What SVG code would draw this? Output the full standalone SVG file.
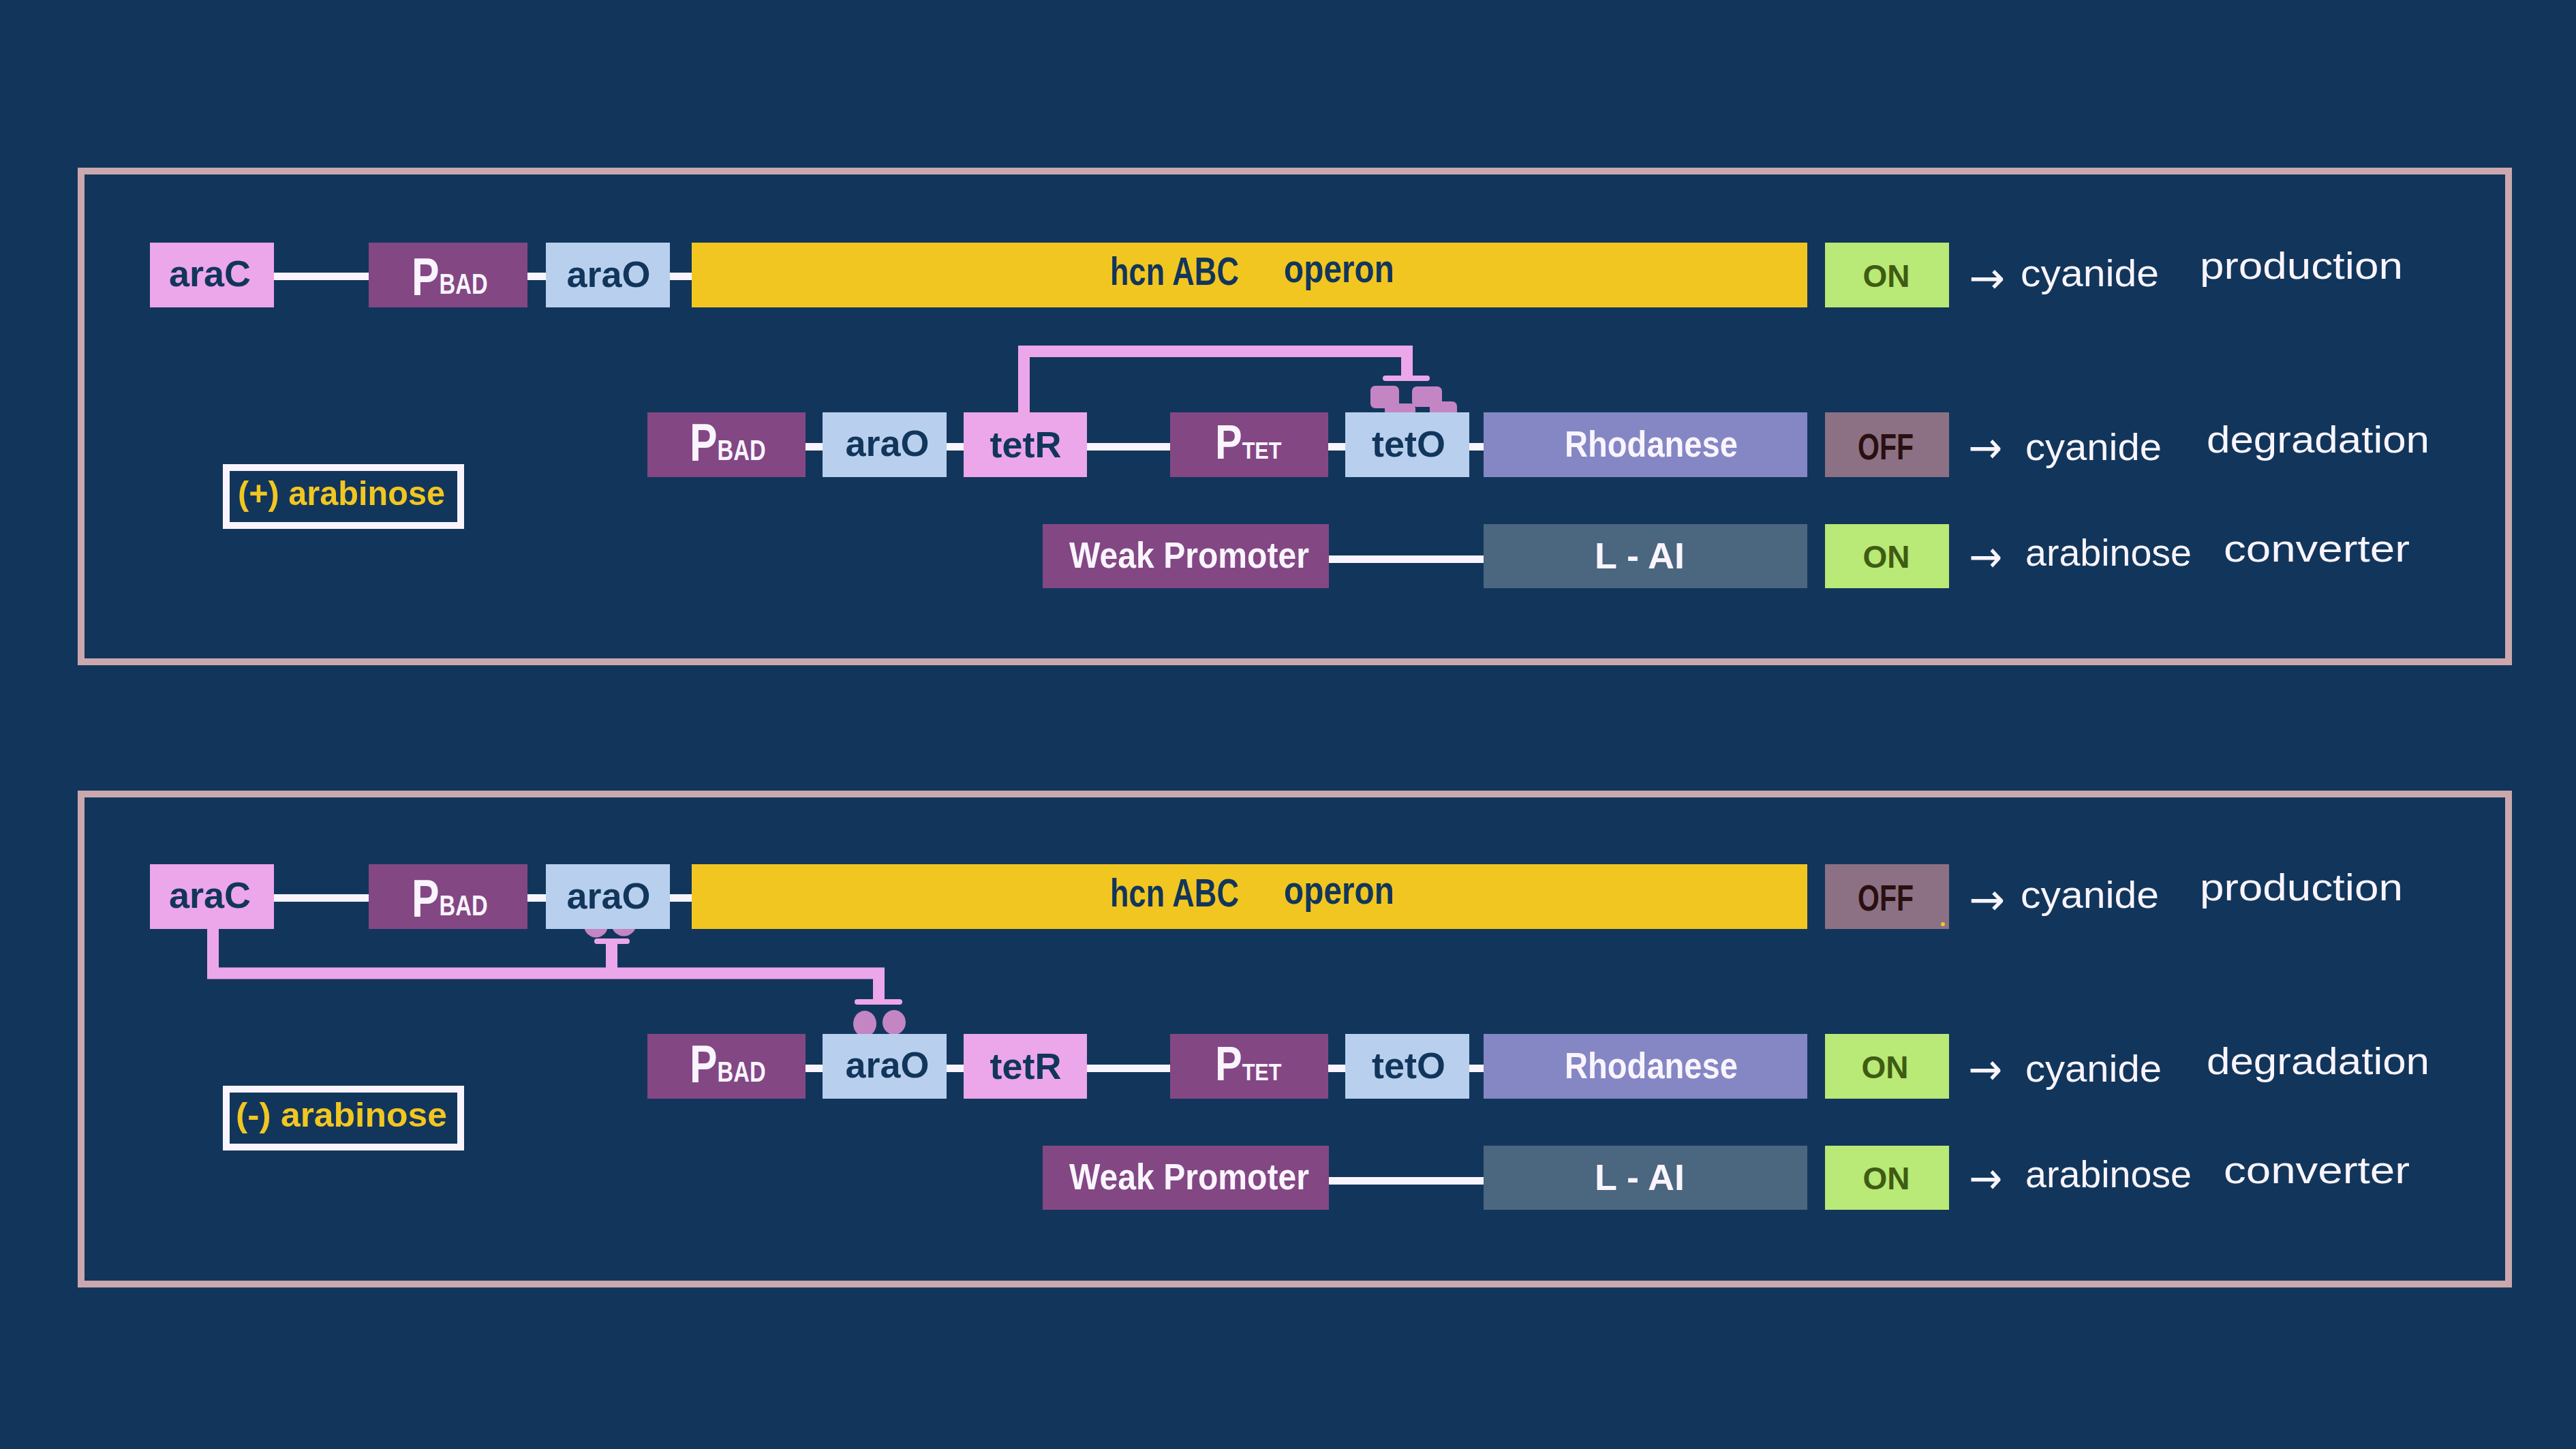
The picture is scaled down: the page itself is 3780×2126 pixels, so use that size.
<svg xmlns="http://www.w3.org/2000/svg" width="3780" height="2126" viewBox="0 0 3780 2126">
<style>
.frame{fill:none;stroke:#cba8ad;stroke-width:10}
.dna{stroke:#f9f4fd;stroke-width:11}
.rep{fill:none;stroke:#eca6ea;stroke-width:17;stroke-linejoin:miter}
.bar{stroke:#eca6ea;stroke-width:8;stroke-linecap:round}
.prot{fill:#c485c4}
.pink{fill:#eca6ea}.prom{fill:#834784}.op{fill:#b8d0ee}.hcn{fill:#f2c621}.rho{fill:#8487c4}.lai{fill:#4b667f}.on{fill:#b9e976}.off{fill:#8c7185}
.cond{fill:none;stroke:#f9f4fd;stroke-width:10}
text{font-family:"Liberation Sans",Arial,sans-serif}
.lbl{font-size:54px;font-weight:bold;fill:#12365b}
.wl{font-weight:bold;fill:#f9f4fd}
.ont{font-size:46px;font-weight:bold;fill:#3f5c12}
.offt{font-size:53px;font-weight:bold;fill:#2a0f10}
.out{font-size:56px;fill:#f9f4fd}
.arr{font-family:"DejaVu Sans",sans-serif;font-size:64px;fill:#f9f4fd}
.arab{font-size:50px;font-weight:bold;fill:#f2c621}
.mid{text-anchor:middle}
</style>
<rect width="3780" height="2126" fill="#12365b"/>

<!-- ================= PANEL 1 ================= -->
<g id="panel1">
<rect id="frame1" class="frame" x="119" y="251" width="3562" height="720"/>
<g id="connectors1">
<line class="dna" x1="402" y1="405.5" x2="1015" y2="405.5"/>
<line class="dna" x1="1182" y1="655.5" x2="2177" y2="655.5"/>
<line class="dna" x1="1950" y1="820.5" x2="2177" y2="820.5"/>
<path class="rep" d="M1502.5,605 V515.5 H2064.5 V553"/>
<line class="bar" x1="2033" y1="555" x2="2094" y2="555"/>
</g>
<g id="tetR-protein1">
<rect class="prot" x="2011" y="566" width="42" height="33" rx="7"/>
<rect class="prot" x="2032" y="592" width="45" height="34" rx="7"/>
<rect class="prot" x="2072" y="567" width="44" height="30" rx="7"/>
<rect class="prot" x="2098" y="589" width="40" height="33" rx="7"/>
</g>
<g id="p1-araC"><rect class="pink" x="220" y="356" width="182" height="95"/><text class="lbl mid" x="308" y="420">araC</text></g>
<g id="p1-pbad1"><rect class="prom" x="541" y="356" width="233" height="95"/><text class="wl" transform="translate(604,433) scale(0.78,1)"><tspan style="font-size:78px">P</tspan><tspan style="font-size:42px" dy="-2">BAD</tspan></text></g>
<g id="p1-araO1"><rect class="op" x="801" y="356" width="182" height="95"/><text class="lbl mid" x="893" y="421">araO</text></g>
<g id="p1-hcn"><rect class="hcn" x="1015" y="356" width="1637" height="95"/><text class="lbl" style="font-size:58px" x="1629" y="418" textLength="189" lengthAdjust="spacingAndGlyphs">hcn ABC</text><text class="lbl" style="font-size:58px" x="1884" y="414" textLength="162" lengthAdjust="spacingAndGlyphs">operon</text></g>
<g id="p1-on1"><rect class="on" x="2678" y="356" width="182" height="95"/><text class="ont mid" x="2768" y="421">ON</text></g>
<g id="p1-out1"><text class="arr" x="2889" y="430" textLength="53" lengthAdjust="spacingAndGlyphs">→</text><text class="out" x="2965" y="420" textLength="203" lengthAdjust="spacingAndGlyphs">cyanide</text><text class="out" x="3228" y="409" textLength="298" lengthAdjust="spacingAndGlyphs">production</text></g>

<g id="p1-pbad2"><rect class="prom" x="950" y="605" width="232" height="95"/><text class="wl" transform="translate(1012,676) scale(0.78,1)"><tspan style="font-size:78px">P</tspan><tspan style="font-size:42px" dy="-1">BAD</tspan></text></g>
<g id="p1-araO2"><rect class="op" x="1207" y="605" width="182" height="95"/><text class="lbl mid" x="1302" y="669">araO</text></g>
<g id="p1-tetR"><rect class="pink" x="1414" y="605" width="181" height="95"/><text class="lbl mid" x="1505" y="671">tetR</text></g>
<g id="p1-ptet"><rect class="prom" x="1717" y="605" width="232" height="95"/><text class="wl" transform="translate(1783,673) scale(0.85,1)"><tspan style="font-size:70px">P</tspan><tspan style="font-size:36px">TET</tspan></text></g>
<g id="p1-tetO"><rect class="op" x="1974" y="605" width="182" height="95"/><text class="lbl mid" x="2067" y="670">tetO</text></g>
<g id="p1-rho"><rect class="rho" x="2177" y="605" width="475" height="95"/><text class="wl" style="font-size:54px" x="2296" y="670" textLength="254" lengthAdjust="spacingAndGlyphs">Rhodanese</text></g>
<g id="p1-off2"><rect class="off" x="2678" y="605" width="182" height="95"/><text class="offt" x="2726" y="674" textLength="82" lengthAdjust="spacingAndGlyphs">OFF</text></g>
<g id="p1-out2"><text class="arr" x="2888" y="679" textLength="50" lengthAdjust="spacingAndGlyphs">→</text><text class="out" x="2972" y="675" textLength="200" lengthAdjust="spacingAndGlyphs">cyanide</text><text class="out" x="3238" y="664" textLength="327" lengthAdjust="spacingAndGlyphs">degradation</text></g>

<g id="p1-weak"><rect class="prom" x="1530" y="769" width="420" height="94"/><text class="wl" style="font-size:54px" x="1569" y="833" textLength="352" lengthAdjust="spacingAndGlyphs">Weak Promoter</text></g>
<g id="p1-lai"><rect class="lai" x="2177" y="769" width="475" height="94"/><text class="wl mid" style="font-size:54px" x="2406" y="834">L - AI</text></g>
<g id="p1-on3"><rect class="on" x="2678" y="769" width="182" height="94"/><text class="ont mid" x="2768" y="833">ON</text></g>
<g id="p1-out3"><text class="arr" x="2889" y="839" textLength="49" lengthAdjust="spacingAndGlyphs">→</text><text class="out" x="2972" y="830" textLength="244" lengthAdjust="spacingAndGlyphs">arabinose</text><text class="out" x="3263" y="824" textLength="273" lengthAdjust="spacingAndGlyphs">converter</text></g>

<g id="p1-cond"><rect class="cond" x="332" y="686" width="344" height="85"/><text class="arab" x="349" y="741" textLength="304" lengthAdjust="spacingAndGlyphs">(+) arabinose</text></g>
</g>

<!-- ================= PANEL 2 ================= -->
<rect id="frame2" class="frame" x="119" y="1165" width="3562" height="719"/>
<g id="panel2" transform="translate(0,912)">
<g id="connectors2">
<line class="dna" x1="402" y1="405.5" x2="1015" y2="405.5"/>
<line class="dna" x1="1182" y1="655.5" x2="2177" y2="655.5"/>
<line class="dna" x1="1950" y1="820.5" x2="2177" y2="820.5"/>
<path class="rep" d="M312.5,451 V516 H1289.5 V555"/>
<line class="rep" x1="897.5" y1="516" x2="897.5" y2="470"/>
<line class="bar" x1="876" y1="469" x2="920" y2="469"/>
<line class="bar" x1="1258" y1="558" x2="1320" y2="558"/>
</g>
<g id="araC-protein2">
<ellipse class="prot" cx="874.5" cy="446" rx="17.5" ry="17.5"/>
<ellipse class="prot" cx="915.5" cy="444" rx="18" ry="17.5"/>
<ellipse class="prot" cx="1269" cy="590" rx="17" ry="19"/>
<ellipse class="prot" cx="1312" cy="588" rx="17" ry="18"/>
</g>
<g id="p2-araC"><rect class="pink" x="220" y="356" width="182" height="95"/><text class="lbl mid" x="308" y="420">araC</text></g>
<g id="p2-pbad1"><rect class="prom" x="541" y="356" width="233" height="95"/><text class="wl" transform="translate(604,433) scale(0.78,1)"><tspan style="font-size:78px">P</tspan><tspan style="font-size:42px" dy="-2">BAD</tspan></text></g>
<g id="p2-araO1"><rect class="op" x="801" y="356" width="182" height="95"/><text class="lbl mid" x="893" y="421">araO</text></g>
<g id="p2-hcn"><rect class="hcn" x="1015" y="356" width="1637" height="95"/><text class="lbl" style="font-size:58px" x="1629" y="418" textLength="189" lengthAdjust="spacingAndGlyphs">hcn ABC</text><text class="lbl" style="font-size:58px" x="1884" y="414" textLength="162" lengthAdjust="spacingAndGlyphs">operon</text></g>
<g id="p2-off1"><rect class="off" x="2678" y="356" width="182" height="95"/><text class="offt" x="2726" y="424" textLength="82" lengthAdjust="spacingAndGlyphs">OFF</text><circle cx="2851" cy="444" r="3" fill="#f2c621"/></g>
<g id="p2-out1"><text class="arr" x="2889" y="430" textLength="53" lengthAdjust="spacingAndGlyphs">→</text><text class="out" x="2965" y="420" textLength="203" lengthAdjust="spacingAndGlyphs">cyanide</text><text class="out" x="3228" y="409" textLength="298" lengthAdjust="spacingAndGlyphs">production</text></g>

<g id="p2-pbad2"><rect class="prom" x="950" y="605" width="232" height="95"/><text class="wl" transform="translate(1012,676) scale(0.78,1)"><tspan style="font-size:78px">P</tspan><tspan style="font-size:42px" dy="-1">BAD</tspan></text></g>
<g id="p2-araO2"><rect class="op" x="1207" y="605" width="182" height="95"/><text class="lbl mid" x="1302" y="669">araO</text></g>
<g id="p2-tetR"><rect class="pink" x="1414" y="605" width="181" height="95"/><text class="lbl mid" x="1505" y="671">tetR</text></g>
<g id="p2-ptet"><rect class="prom" x="1717" y="605" width="232" height="95"/><text class="wl" transform="translate(1783,673) scale(0.85,1)"><tspan style="font-size:70px">P</tspan><tspan style="font-size:36px">TET</tspan></text></g>
<g id="p2-tetO"><rect class="op" x="1974" y="605" width="182" height="95"/><text class="lbl mid" x="2067" y="670">tetO</text></g>
<g id="p2-rho"><rect class="rho" x="2177" y="605" width="475" height="95"/><text class="wl" style="font-size:54px" x="2296" y="670" textLength="254" lengthAdjust="spacingAndGlyphs">Rhodanese</text></g>
<g id="p2-on2"><rect class="on" x="2678" y="605" width="182" height="95"/><text class="ont mid" x="2766" y="670">ON</text></g>
<g id="p2-out2"><text class="arr" x="2888" y="679" textLength="50" lengthAdjust="spacingAndGlyphs">→</text><text class="out" x="2972" y="675" textLength="200" lengthAdjust="spacingAndGlyphs">cyanide</text><text class="out" x="3238" y="664" textLength="327" lengthAdjust="spacingAndGlyphs">degradation</text></g>

<g id="p2-weak"><rect class="prom" x="1530" y="769" width="420" height="94"/><text class="wl" style="font-size:54px" x="1569" y="833" textLength="352" lengthAdjust="spacingAndGlyphs">Weak Promoter</text></g>
<g id="p2-lai"><rect class="lai" x="2177" y="769" width="475" height="94"/><text class="wl mid" style="font-size:54px" x="2406" y="834">L - AI</text></g>
<g id="p2-on3"><rect class="on" x="2678" y="769" width="182" height="94"/><text class="ont mid" x="2768" y="833">ON</text></g>
<g id="p2-out3"><text class="arr" x="2889" y="839" textLength="49" lengthAdjust="spacingAndGlyphs">→</text><text class="out" x="2972" y="830" textLength="244" lengthAdjust="spacingAndGlyphs">arabinose</text><text class="out" x="3263" y="824" textLength="273" lengthAdjust="spacingAndGlyphs">converter</text></g>

<g id="p2-cond"><rect class="cond" x="332" y="686" width="344" height="85"/><text class="arab" x="346" y="741" textLength="310" lengthAdjust="spacingAndGlyphs">(-) arabinose</text></g>
</g>
</svg>
